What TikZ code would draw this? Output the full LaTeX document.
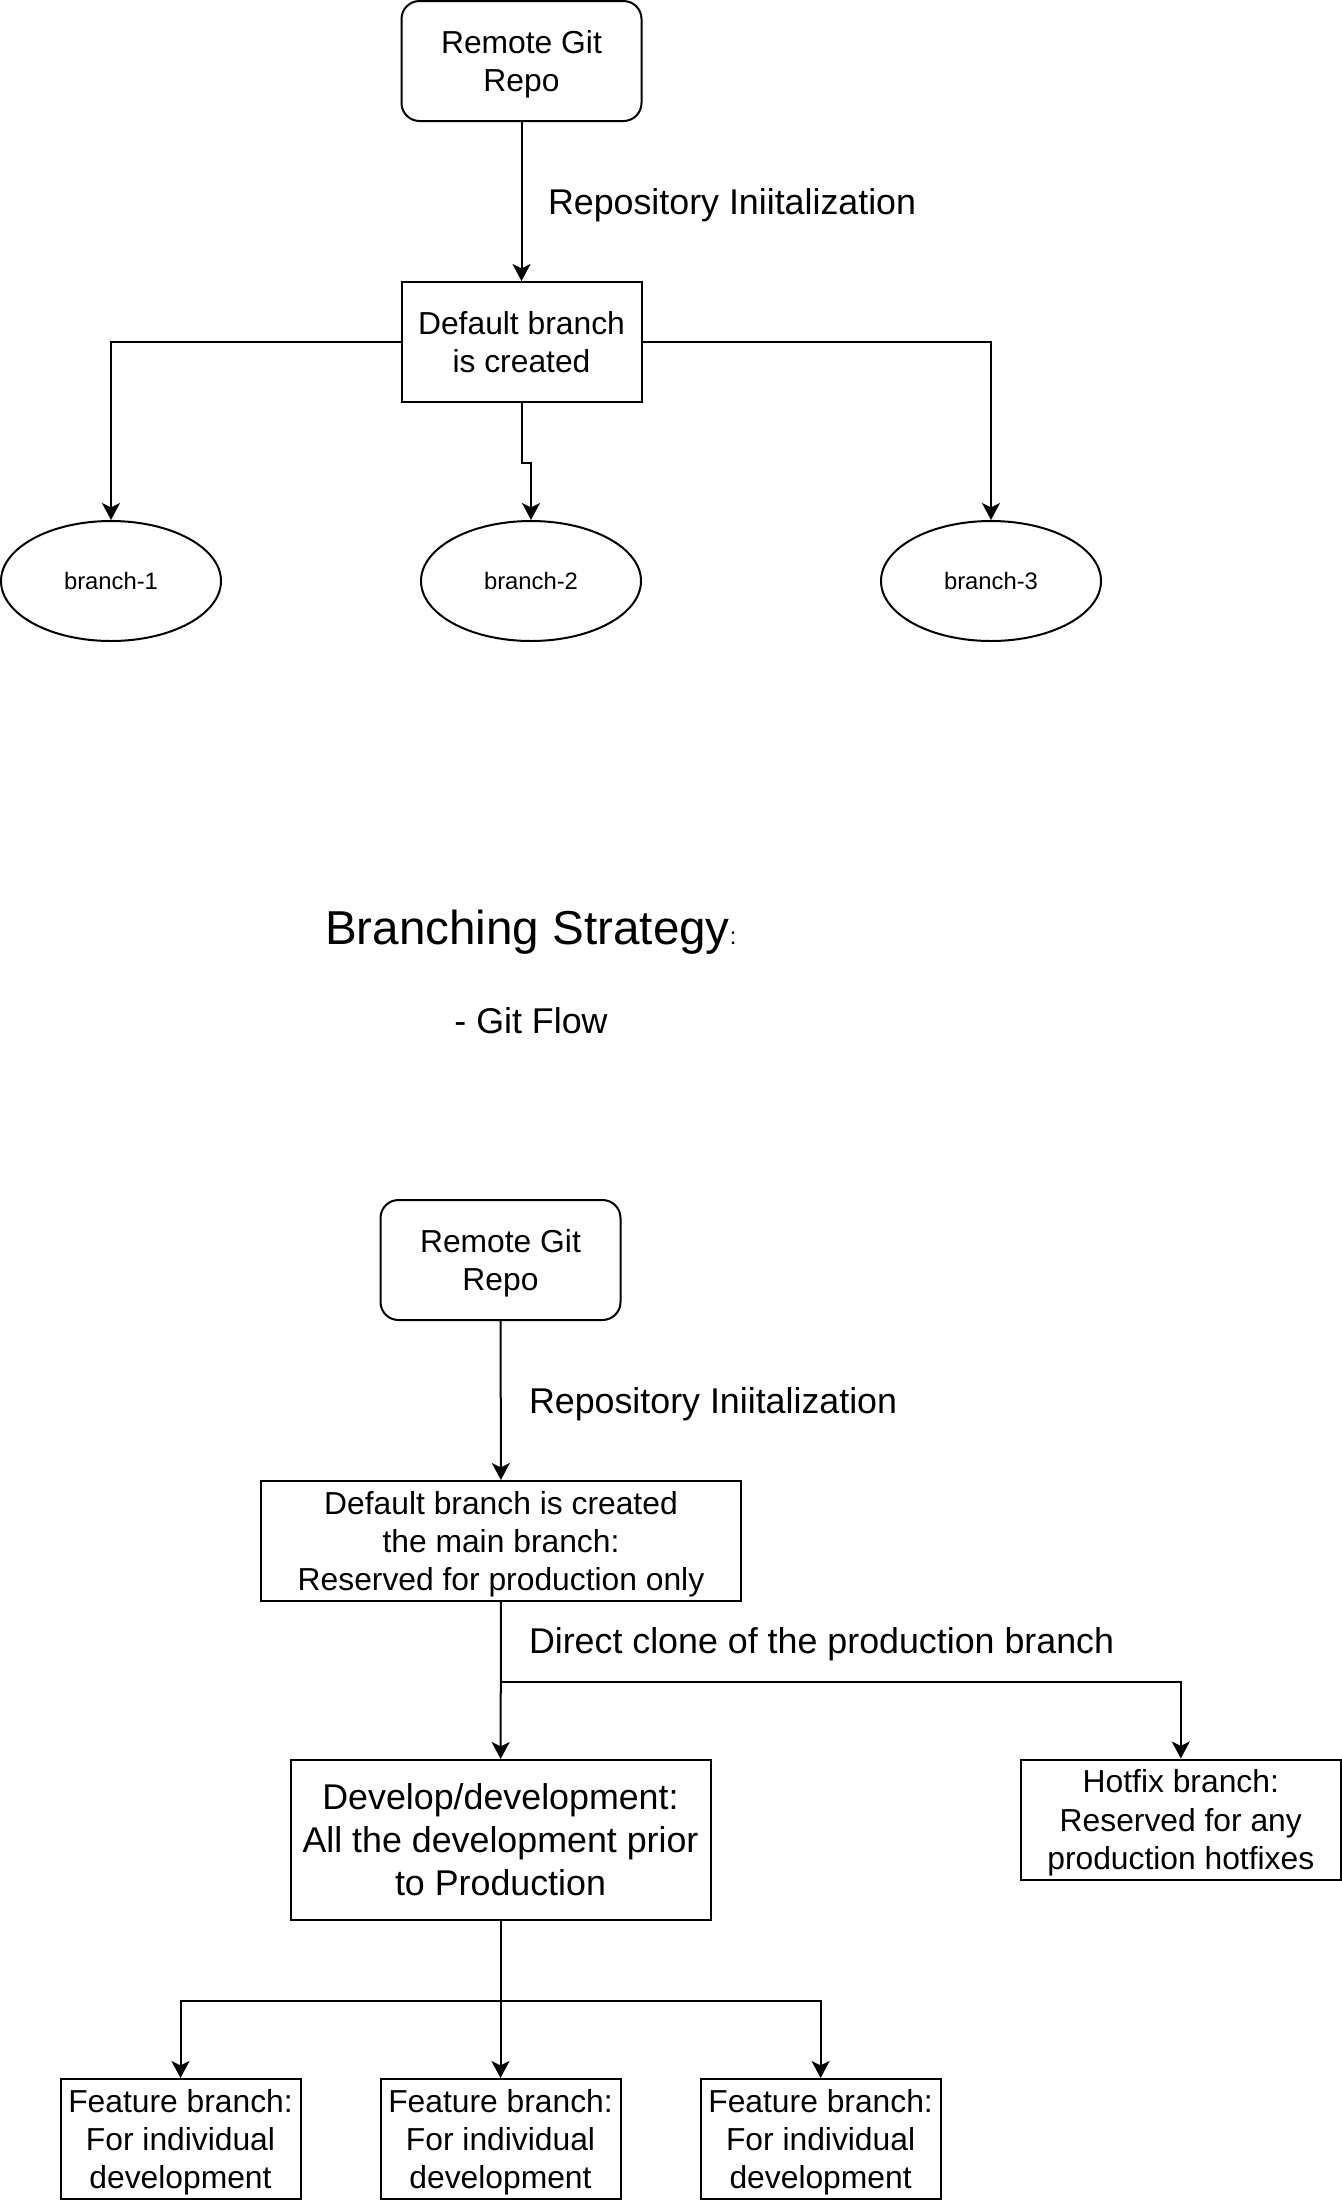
\documentclass[tikz,border=0pt]{standalone}
\usepackage{fontspec}
\setmainfont{Liberation Sans}
\usetikzlibrary{calc}
\usetikzlibrary{arrows.meta}
\usetikzlibrary{shapes.geometric}

\begin{document}
\begin{tikzpicture} [x=0.5pt, y=-0.5pt, line width=1pt,
  rbox/.style={draw, rounded corners=9pt, align=center, inner sep=0pt, text depth=0pt, minimum width=120pt, minimum height=60pt, font=\fontsize{15.9}{19.1}\selectfont},
  sbox/.style={draw, align=center, inner sep=0pt, text depth=0pt, minimum width=120pt, minimum height=60pt, font=\fontsize{15.9}{19.1}\selectfont},
  oval/.style={draw, ellipse, inner sep=0pt, minimum width=110pt, minimum height=60pt, font=\fontsize{11.9}{14.3}\selectfont},
  lbl/.style={anchor=west, inner sep=0pt, font=\fontsize{17.9}{21.5}\selectfont},
  arr/.style={-{Stealth[length=8.5pt, width=9pt, inset=2.2pt]}}]
\useasboundingbox (0,0) rectangle (1342,2202);

% top: plain branches
\node[rbox] (repoA) at (521.5,61) {Remote Git\\Repo};
\node[sbox] (defA) at (521.5,342) {Default branch\\is created};
\node[oval] (brA) at (111,581) {branch-1};
\node[oval] (brB) at (531,581) {branch-2};
\node[oval] (brC) at (991,581) {branch-3};
\node[lbl] (initA) at (547,205) {Repository Iniitalization};

\draw[arr] (repoA) -- (defA);
\draw[arr] (defA.west) -| (brA.north);
\draw[arr] (defA.south) -- ++(0,60) -| (brB.north);
\draw[arr] (defA.east) -| (brC.north);

% heading
\node[anchor=west, inner sep=0pt, font=\fontsize{23.8}{28.6}\selectfont] (title) at (324,932) {Branching Strategy{\fontsize{11.9}{14.3}\selectfont:}};
\node[inner sep=0pt, font=\fontsize{17.9}{21.5}\selectfont] (flow) at (531,1021) {- Git Flow};

% bottom: git flow
\node[rbox] (repoB) at (500.5,1260) {Remote Git\\Repo};
\node[sbox, minimum width=240pt] (defB) at (501,1541) {Default branch is created\\the main branch:\\Reserved for production only};
\node[sbox, minimum width=210pt, minimum height=80pt, font=\fontsize{17.9}{21.5}\selectfont] (devB) at (500.5,1840) {Develop/development:\\All the development prior\\to Production};
\node[sbox, minimum width=160pt] (hotB) at (1180.8,1819.5) {Hotfix branch:\\Reserved for any\\production hotfixes};
\node[sbox] (featA) at (180.5,2139) {Feature branch:\\For individual\\development};
\node[sbox] (featB) at (500.5,2139) {Feature branch:\\For individual\\development};
\node[sbox] (featC) at (820.6,2139) {Feature branch:\\For individual\\development};
\node[lbl] (initB) at (528,1404) {Repository Iniitalization};
\node[lbl] (clone) at (528,1644) {Direct clone of the production branch};

\draw[arr] (repoB) -- (defB);
\draw[arr] (defB) -- (devB);
\draw[arr] (defB.south) -- ++(0,80) -| (hotB.north);
\draw[arr] (devB.south) -- ++(0,80) -| (featA.north);
\draw[arr] (devB) -- (featB);
\draw[arr] (devB.south) -- ++(0,80) -| (featC.north);

\end{tikzpicture}
\end{document}
